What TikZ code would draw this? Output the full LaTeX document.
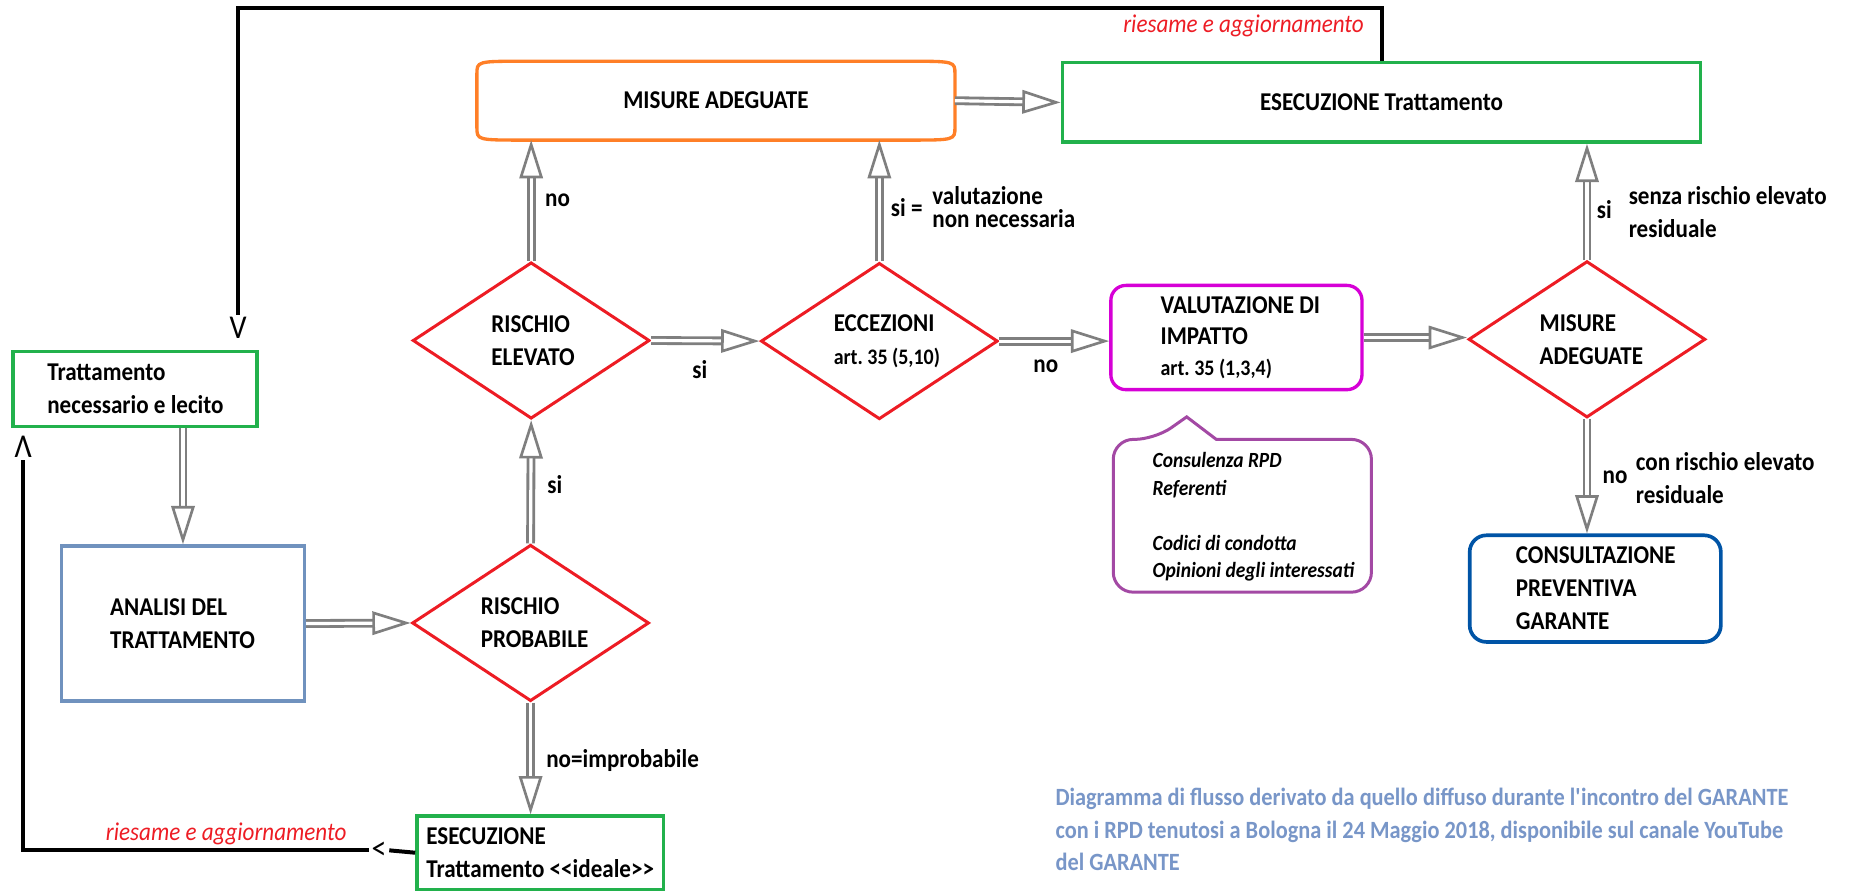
\documentclass[tikz,border=0pt]{standalone}
\usepackage{fontspec}
\setmainfont{Carlito}[FakeStretch=0.9]
\usepackage{xcolor}
\usepackage{tikz}
\usetikzlibrary{shapes.geometric, arrows.meta, calc}

\definecolor{pgreen}{RGB}{34,177,76}
\definecolor{porange}{RGB}{255,127,39}
\definecolor{pred}{RGB}{237,28,36}
\definecolor{pmagenta}{RGB}{214,0,214}
\definecolor{ppurple}{RGB}{163,73,164}
\definecolor{pblue}{RGB}{0,84,166}
\definecolor{pbluegray}{RGB}{112,146,190}
\definecolor{pfoot}{RGB}{120,150,200}
\definecolor{arrgray}{RGB}{127,127,127}

\begin{document}
\begin{tikzpicture}[
    x=0.025cm, y=-0.025cm,
    every node/.style={font=\fontsize{15.4}{19.8}\selectfont\bfseries, inner sep=0pt},
    gbox/.style={rectangle, draw=pgreen, line width=2pt, align=flush left},
    obox/.style={rectangle, align=center},
    vbox/.style={rectangle, draw=pmagenta, line width=2pt, rounded corners=9pt, align=flush left, font=\fontsize{15.4}{18.5}\selectfont\bfseries},
    abox/.style={rectangle, draw=pbluegray, line width=2pt, align=flush left},
    cbox/.style={rectangle, draw=pblue, line width=2.2pt, rounded corners=10pt, align=flush left},
    dnode/.style={diamond, aspect=1.5, draw=pred, line width=1.8pt, align=flush left, minimum width=5cm, minimum height=3.3cm},
    arr/.style={draw=arrgray, line width=1.7pt, double=white, double distance=1.9pt, -{Triangle[open, length=23pt, width=14pt, line width=1.6pt]}},
    loopline/.style={draw=black, line width=2.4pt},
    tipmark/.style={font=\fontsize{20}{20}\selectfont, inner sep=1.5pt},
    lbl/.style={anchor=west, align=left},
    rlbl/.style={text=pred, font=\fontsize{15.4}{19.8}\selectfont\itshape},
    ctext/.style={anchor=west, align=left, font=\fontsize{13}{16.5}\selectfont\bfseries\itshape},
    callout/.style={draw=ppurple, line width=1.8pt},
    foot/.style={anchor=west, align=left, text=pfoot, font=\fontsize{14.9}{19.5}\selectfont\bfseries}
]
\useasboundingbox (0,0) rectangle (1568,752);

% boxes
\node[gbox, minimum width=5.15cm, minimum height=1.575cm, text width=3.7cm] (trat) at (114,328.5) {Trattamento\\\mbox{necessario e lecito}};
\node[abox, minimum width=5.125cm, minimum height=3.275cm, text width=3.075cm] (analisi) at (154.5,526.5) {ANALISI DEL\\TRATTAMENTO};
\node[obox, minimum width=10.075cm, minimum height=1.65cm] (misure) at (604.5,85) {MISURE ADEGUATE};
\node[gbox, minimum width=13.475cm, minimum height=1.675cm] (esec) at (1166.5,86.5) {ESECUZIONE Trattamento};
\node[vbox, minimum width=5.3cm, minimum height=2.2cm, text width=3.2cm] (val) at (1044,285) {\mbox{VALUTAZIONE DI}\\IMPATTO\\{\fontsize{13.3}{18.5}\selectfont\mbox{art.\ 35 (1,3,4)}}};
\node[cbox, minimum width=5.3cm, minimum height=2.25cm, text width=3.35cm] (cons) at (1347,497) {CONSULTAZIONE\\PREVENTIVA\\GARANTE};
\node[gbox, minimum width=5.2cm, minimum height=1.55cm, text width=4.8cm] (ideal) at (456,720) {ESECUZIONE\\\mbox{Trattamento <\kern0pt<ideale>\kern0pt>}};

% decisions
\node[dnode, text width=1.675cm] (re) at (448.5,287.5) {RISCHIO\\ELEVATO};
\node[dnode, text width=1.925cm] (ecc) at (742.5,288) {ECCEZIONI\\{\fontsize{13.3}{19.8}\selectfont\mbox{art.\ 35 (5,10)}}};
\node[dnode, text width=2cm] (ma) at (1340,286.5) {MISURE\\ADEGUATE};
\node[dnode, text width=2.1cm] (rp) at (448,526) {RISCHIO\\PROBABILE};

% orange outline
\draw[porange, line width=2pt] ($(misure.north west)+(40,0)$) -- ($(misure.north east)+(-40,0)$)
    .. controls (misure.north east) .. ($(misure.north east)+(0,11)$) -- ($(misure.south east)+(0,-11)$)
    .. controls (misure.south east) .. ($(misure.south east)+(-40,0)$) -- ($(misure.south west)+(40,0)$)
    .. controls (misure.south west) .. ($(misure.south west)+(0,-11)$) -- ($(misure.north west)+(0,11)$)
    .. controls (misure.north west) .. ($(misure.north west)+(40,0)$) -- cycle;

% callout
\node[ctext] (rpd) at (973,436.5) {Consulenza RPD\\Referenti\\[16.5pt]Codici di condotta\\Opinioni degli interessati};
\draw[callout] (940,436) [rounded corners=12pt] -- (940,371) -- (975,371) [sharp corners] -- (1002,352) -- (1027,371)
    [rounded corners=12pt] -- (1158,371) -- (1158,500) -- (940,500) -- cycle;

% arrows
\draw[arr] (misure.east) -- (esec.west);
\draw[arr] (re.north) -- (re.north |- misure.south);
\draw[arr] (ecc.north) -- (ecc.north |- misure.south);
\draw[arr] (re.east) -- (ecc.west);
\draw[arr] (ecc.east) -- (ecc.east -| val.west);
\draw[arr] (val.east) -- (val.east -| ma.west);
\draw[arr] (ma.north) -- (ma.north |- esec.south);
\draw[arr] (ma.south) -- (ma.south |- cons.north);
\draw[arr] (analisi.north |- trat.south) -- (analisi.north);
\draw[arr] (analisi.east) -- (rp.west);
\draw[arr] (rp.north) -- (re.south);
\draw[arr] (rp.south) -- (rp.south |- ideal.north);

% labels
\node[lbl] (l_no1) at (460,169) {no};
\node[lbl] (l_si1) at (752,175) {si =};
\node[lbl, font=\fontsize{15.4}{13.5}\selectfont\bfseries] (l_val) at (787,175) {valutazione\\non necessaria};
\node (l_si2) at (591,312) {si};
\node (l_no2) at (883,309) {no};
\node[lbl] (l_si3) at (1348,177) {si};
\node[lbl] (l_senza) at (1375,179) {senza rischio elevato\\residuale};
\node[lbl] (l_no3) at (1353,403) {no};
\node[lbl] (l_con) at (1381,403.5) {con rischio elevato\\residuale};
\node[lbl] (l_si4) at (462,409) {si};
\node[lbl] (l_noimp) at (461,642) {no=improbabile};

% riesame loops
\node[tipmark] (vmark) at (201,277) {V};
\node[tipmark] (ltmark) at (320,718) {<};
\node[tipmark] (upmark) at (19.5,377) {Λ};
\draw[loopline] (esec.north) -- ++(0,-45) -| (vmark.north);
\draw[loopline] (ideal.west) -- (ltmark.east);
\draw[loopline] (ltmark.west) -| (upmark.south);
\node[rlbl] (ries_top) at (1050,22) {riesame e aggiornamento};
\node[rlbl] (ries_bot) at (191,704) {riesame e aggiornamento};

% nota
\node[foot] (nota) at (891,700.5) {Diagramma di flusso derivato da quello diffuso durante l\textquotesingle incontro del GARANTE\\con i RPD tenutosi a Bologna il 24 Maggio 2018, disponibile sul canale YouTube\\del GARANTE};

\end{tikzpicture}
\end{document}
